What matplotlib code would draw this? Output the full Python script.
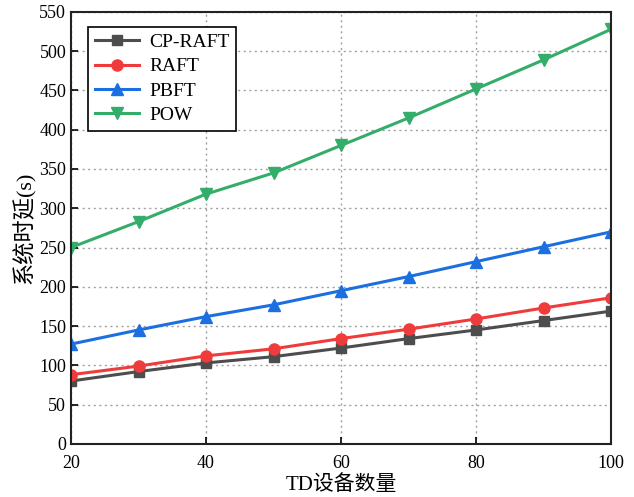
import matplotlib.pyplot as plt

plt.rcParams['font.family'] = ['Liberation Serif', 'Noto Sans CJK SC']
plt.rcParams['axes.unicode_minus'] = False

x = [20, 30, 40, 50, 60, 70, 80, 90, 100]
cp_raft = [80, 92, 103, 111, 122, 134, 145, 157, 169]
raft = [88, 99, 112, 121, 134, 146, 159, 173, 186]
pbft = [127, 145, 162, 177, 195, 213, 232, 251, 270]
pow_ = [250, 283, 318, 345, 380, 415, 452, 489, 528]

fig = plt.figure(figsize=(6.34, 4.97), dpi=100)
ax = fig.add_axes([0.112, 0.107, 0.852, 0.869])

ax.plot(x, cp_raft, color='#4d4d4d', marker='s', ms=7, lw=2.2, label='CP-RAFT')
ax.plot(x, raft, color='#ef3b3b', marker='o', ms=8, lw=2.2, label='RAFT')
ax.plot(x, pbft, color='#1b6fe0', marker='^', ms=8, lw=2.2, label='PBFT')
ax.plot(x, pow_, color='#34ad6a', marker='v', ms=8, lw=2.2, label='POW')

ax.set_xlim(20, 100)
ax.set_ylim(0, 550)
ax.set_xticks([20, 40, 60, 80, 100])
ax.set_yticks(range(0, 551, 50))
ax.tick_params(direction='in', labelsize=13, width=1.2, length=5)
ax.tick_params(axis='x', pad=8)
ax.grid(True, linestyle=(0, (1.5, 2.5)), color='#a0a0a0', lw=1)
for s in ax.spines.values():
    s.set_linewidth(1.5)
    s.set_color('#222222')

ax.set_xlabel('TD设备数量', fontsize=15, labelpad=2)
ax.set_ylabel('系统时延(s)', fontsize=16, labelpad=2)

leg = ax.legend(loc='upper left', bbox_to_anchor=(0.031, 0.966), fontsize=14,
                fancybox=False, edgecolor='black', framealpha=1,
                handlelength=2.3, handletextpad=0.5, borderpad=0.35,
                labelspacing=0.35, borderaxespad=0)
leg.get_frame().set_linewidth(1.2)

fig.savefig('out.png')
